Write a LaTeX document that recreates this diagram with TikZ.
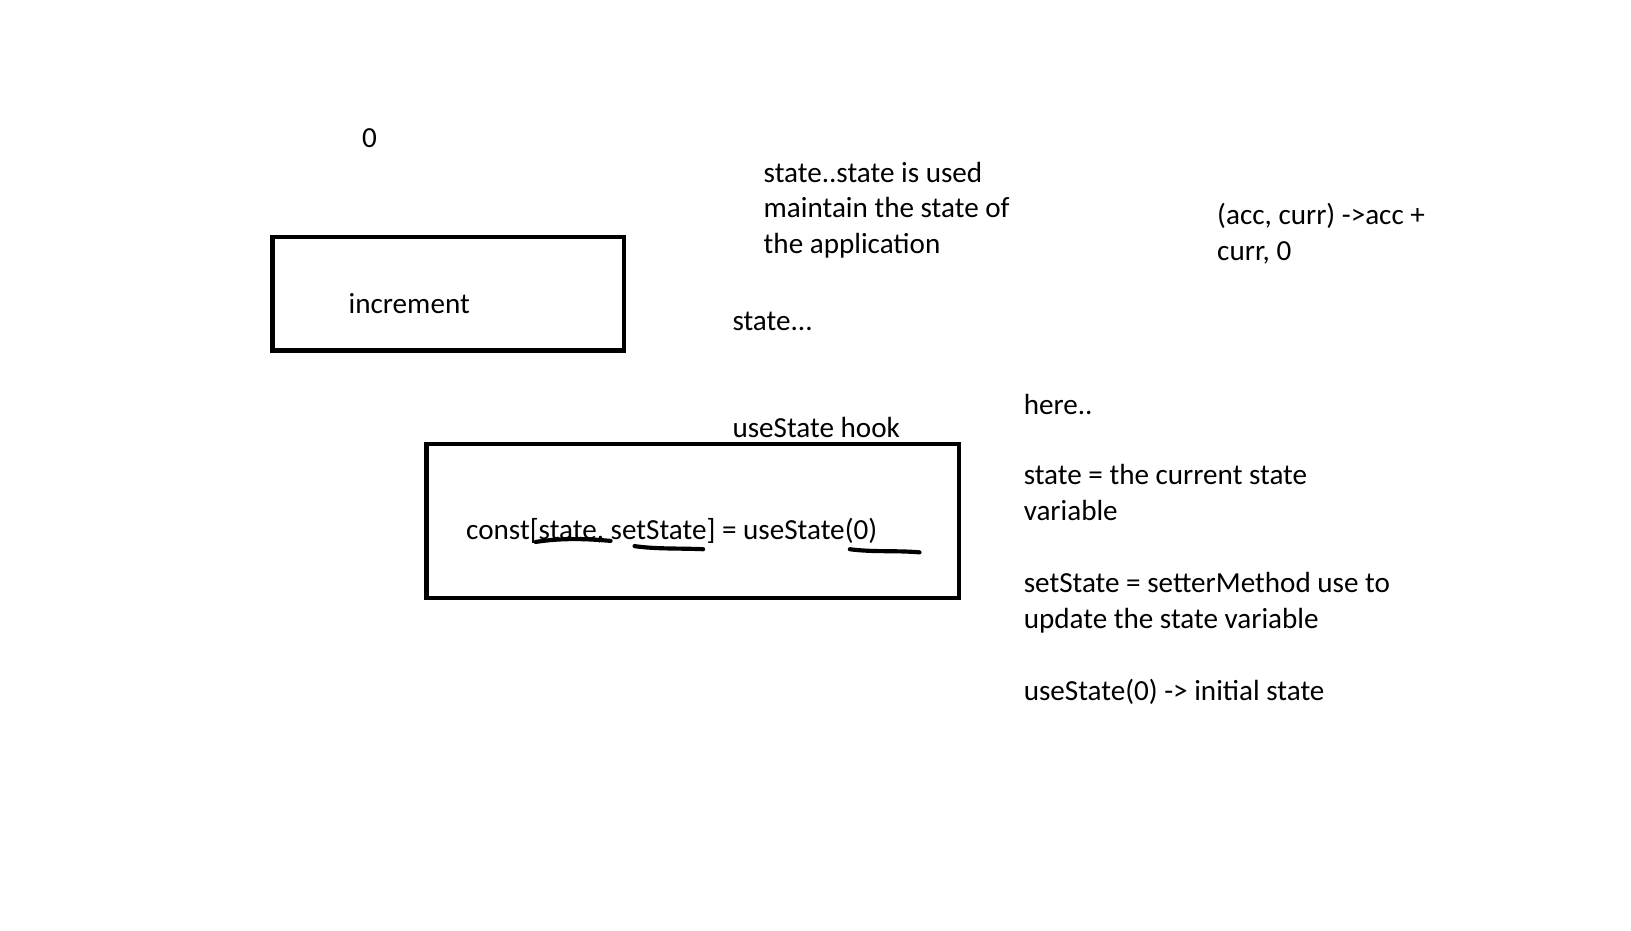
\documentclass[tikz,border=0pt]{standalone}
\usepackage{fontspec}
\setmainfont{Carlito}
\usetikzlibrary{positioning}

\begin{document}
\begin{tikzpicture}[x=1pt, y=-1pt,
    every node/.style={font=\fontsize{28}{34.5}\selectfont, inner sep=0pt, anchor=base west, align=left},
    frame/.style={draw, line width=4pt},
    scribble/.style={line width=4pt, line cap=round}]
        \useasboundingbox (0,0) rectangle (1568,895);
        % boxes
        \draw[frame] (262,228) rectangle (600,337);
        \draw[frame] (410,427) rectangle (922,575);
        % texts (multi-line nodes sit on their last line)
        \node (zero) at (348,142) {0};
        \node (inc) at (335,301) {increment};
        \node (about) at (734,244) {state..state is used\\maintain the state of\\the application};
        \node (reduce) at (1170,250) {(acc, curr) ->acc +\\curr, 0};
        \node (dots) at (704,318) {state...};
        \node (hook) at (704,421) {useState hook};
        \node (code) at (448,519) {const[state, setState] = useState(0)};
        \node (here) at (984,398) {here..};
        \node (cur) at (984,500) {state = the current state\\variable};
        \node (setter) at (984,604) {setState = setterMethod use to\\update the state variable};
        \node (init) at (984,673) {useState(0) -> initial state};
        % underlines
        \draw[scribble] (515,521) .. controls (540,517) and (565,518) .. (587,520);
        \draw[scribble] (610,525) .. controls (630,528) and (655,527) .. (676,528);
        \draw[scribble] (817,528) .. controls (840,531) and (860,529) .. (884,531);
      \end{tikzpicture}
\end{document}
